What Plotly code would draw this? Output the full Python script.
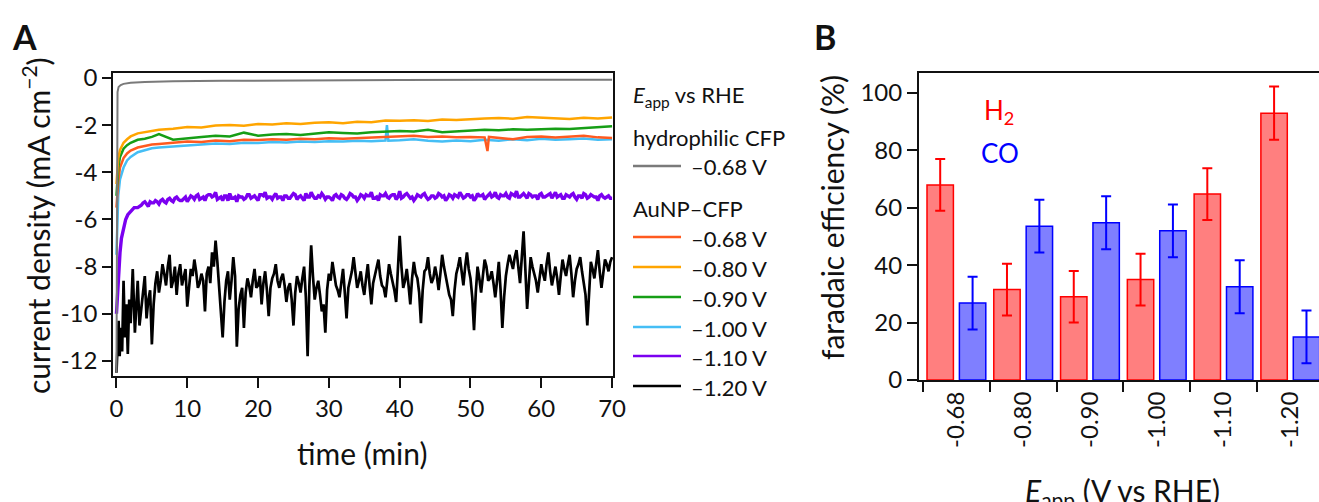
import numpy as np
import plotly.graph_objects as go

W, H = 1319, 502
FONT = "Lato, 'Open Sans', sans-serif"

# ---------------- Panel A data (time in min, current density in mA cm^-2) ----------------
t_gray = [0, 0.05, 0.15, 0.3, 0.6, 1, 2, 4, 8, 15, 25, 40, 55, 70]
j_gray = [-12.5, -3.0, -0.6, -0.38, -0.3, -0.25, -0.2, -0.17, -0.14, -0.12, -0.1, -0.09, -0.08, -0.08]

t_grid = [0, 0.1, 0.25, 0.5, 1, 1.5, 2, 3, 4, 5, 6,
          8, 10, 12, 14, 16, 18, 20, 22, 24, 26, 28, 30, 32, 34, 36, 38,
          40, 42, 44, 46, 48, 50, 52, 54, 56, 58, 60, 62, 64, 66, 68, 70]

j_080 = [-4.5, -3.9, -3.4, -3.05, -2.75, -2.6, -2.48, -2.35, -2.3, -2.22, -2.2,
         -2.15, -2.08, -2.1, -2.02, -2.0, -2.03, -1.95, -1.97, -1.92, -1.95, -1.9, -1.88, -1.92, -1.86, -1.88, -1.8,
         -1.82, -1.79, -1.83, -1.76, -1.78, -1.74, -1.72, -1.7, -1.73, -1.66, -1.68, -1.7, -1.74, -1.69, -1.72, -1.68]

j_090 = [-5.0, -4.4, -3.8, -3.35, -3.0, -2.85, -2.75, -2.62, -2.58, -2.5, -2.38,
         -2.62, -2.55, -2.5, -2.45, -2.48, -2.32, -2.45, -2.4, -2.38, -2.42, -2.35, -2.3, -2.33, -2.36, -2.3, -2.28,
         -2.25, -2.27, -2.2, -2.3, -2.26, -2.24, -2.2, -2.22, -2.18, -2.2, -2.17, -2.15, -2.16, -2.12, -2.1, -2.05]

t_068 = [0, 0.1, 0.25, 0.5, 1, 1.5, 2, 3, 4, 5, 6,
         8, 10, 12, 14, 16, 18, 20, 22, 24, 26, 28, 30, 32, 34, 36, 38,
         40, 42, 44, 46, 48, 50, 52, 52.4, 52.6, 54, 56, 58, 60, 62, 64, 66, 68, 70]
j_068 = [-5.5, -4.9, -4.4, -3.8, -3.4, -3.2, -3.08, -2.95, -2.88, -2.82, -2.8,
         -2.75, -2.7, -2.72, -2.65, -2.68, -2.62, -2.63, -2.6, -2.62, -2.58, -2.6, -2.56, -2.58, -2.55, -2.52, -2.5,
         -2.47, -2.45, -2.5, -2.48, -2.52, -2.5, -2.52, -3.1, -2.5, -2.55, -2.6, -2.5, -2.48, -2.53, -2.5, -2.45, -2.52, -2.55]

t_100 = [0, 0.1, 0.25, 0.5, 1, 1.5, 2, 3, 4, 5, 6,
         8, 10, 12, 14, 16, 18, 20, 22, 24, 26, 28, 30, 32, 34, 36, 38, 38.2, 38.4,
         40, 42, 44, 46, 48, 50, 52, 54, 56, 58, 60, 62, 64, 66, 68, 70]
j_100 = [-7.5, -6.2, -5.0, -4.3, -3.8, -3.5, -3.35, -3.15, -3.05, -2.98, -2.95,
         -2.9, -2.85, -2.82, -2.78, -2.8, -2.75, -2.76, -2.72, -2.74, -2.7, -2.72, -2.68, -2.7, -2.66, -2.68, -2.65, -2.0, -2.66,
         -2.64, -2.6, -2.66, -2.7, -2.65, -2.68, -2.62, -2.66, -2.6, -2.64, -2.58, -2.62, -2.6, -2.57, -2.62, -2.6]

t_110_early = [0, 0.15, 0.3, 0.5, 0.7, 1.0, 1.3, 1.6, 2.0, 2.5, 3.0]
j_110_early = [-10.0, -9.2, -8.3, -7.4, -6.8, -6.3, -6.0, -5.8, -5.65, -5.5, -5.5]
j_110_late = [  # t = 3.5, 4.0 ... 70
    -5.4, -5.25, -5.45, -5.3, -5.2, -5.35, -5.15, -5.3, -5.1, -5.25, -5.05, -5.2, -5.1, -5.25,
    -5.0, -5.15, -4.95, -5.1, -5.2, -4.95, -5.05, -4.85, -5.1, -5.2, -5.0, -4.9, -5.1, -5.25,
    -5.05, -5.15, -4.95, -5.1, -5.0, -5.2, -4.95, -4.85, -5.05, -5.15, -4.9, -5.05, -5.2, -5.0,
    -5.1, -4.9, -5.15, -5.0, -5.2, -5.05, -4.85, -5.1, -5.0, -4.9, -5.15, -5.05, -5.2, -4.95,
    -5.1, -5.0, -5.15, -4.9, -5.05, -5.2, -4.95, -5.1, -5.0, -4.85, -5.1, -5.2, -5.0, -4.9,
    -5.1, -4.95, -5.15, -4.8, -5.05, -4.9, -5.1, -5.2, -4.95, -5.05, -4.9, -5.15, -5.0, -5.1,
    -4.9, -5.05, -5.2, -4.95, -5.1, -5.0, -4.85, -5.1, -4.95, -5.05, -5.2, -4.9, -5.0, -5.15,
    -4.95, -5.05, -4.85, -5.1, -5.0, -4.9, -5.1, -4.95, -4.8, -5.05, -4.9, -5.1, -4.95, -5.0,
    -5.15, -4.9, -5.05, -4.95, -5.1, -4.85, -5.0, -5.1, -4.95, -5.05, -4.9, -5.15, -5.0, -4.9,
    -5.1, -4.95, -5.05, -5.2, -4.95, -5.1, -5.0, -5.1]
j_110_mid = [  # t = 3.75, 4.25 ... 69.75
    -5.3, -5.35, -5.25, -5.3, -5.25, -5.2, -5.25, -5.15, -5.2, -5.1, -5.15, -5.2, -5.05,
    -5.1, -5.05, -5.0, -5.15, -5.05, -5.0, -4.95, -5.0, -5.15, -5.05, -5.0, -5.2, -5.1,
    -5.05, -5.0, -5.05, -5.1, -4.95, -5.05, -5.1, -4.95, -5.0, -5.1, -5.05, -5.0, -5.1,
    -5.05, -5.0, -5.1, -5.0, -4.95, -5.05, -5.1, -4.9, -5.05, -5.0, -5.1, -5.05, -5.0,
    -5.05, -5.1, -5.0, -5.05, -4.95, -5.1, -5.05, -4.95, -5.05, -5.1, -5.0, -4.95, -5.0,
    -5.1, -5.05, -4.95, -5.0, -5.05, -5.0, -4.95, -5.05, -5.1, -4.95, -5.0, -5.05, -5.1,
    -5.0, -4.95, -5.05, -5.1, -5.0, -5.05, -4.95, -5.0, -5.1, -5.0, -4.95, -5.05, -5.0,
    -5.05, -4.95, -5.0, -5.1, -5.0, -4.95, -5.05, -4.9, -5.0, -5.05, -4.95, -5.0, -5.05,
    -4.9, -5.0, -5.05, -4.95, -5.0, -4.9, -5.05, -5.0, -4.95, -5.05, -5.0, -4.9, -5.0,
    -5.05, -4.95, -5.1, -5.0, -4.95, -5.05, -5.0, -5.1, -4.95, -5.05, -5.0, -5.05,
    -5.0, -5.05, -5.05, -5.1]

t_120_early = [0, 0.15, 0.3, 0.45, 0.6, 0.8, 1.0, 1.2, 1.4, 1.6, 1.8, 2.0, 2.3, 2.6, 3.0, 3.25]
j_120_early = [-12.5, -11.2, -10.3, -11.8, -10.6, -11.6, -8.6, -11.0, -9.6, -11.7, -9.4, -10.4, -8.1, -10.8, -8.6, -10.5]
j_120_late = [  # t = 3.5, 4.0 ... 70
    -9.8, -8.4, -9.4, -11.3, -8.7, -9.1, -7.9, -8.8, -7.5, -8.6, -9.2, -7.9, -8.5, -9.7,
    -8.1, -7.7, -8.9, -8.3, -9.9, -8.0, -7.4, -6.9, -9.0, -11.0, -8.6, -9.4, -7.6, -11.4,
    -9.2, -10.6, -8.5, -9.3, -8.1, -8.8, -9.6, -8.2, -10.1, -8.5, -7.9, -8.9, -8.3, -9.5,
    -8.7, -10.5, -8.4, -9.1, -8.0, -11.8, -7.1, -9.4, -8.6, -9.9, -10.8, -8.3, -7.8, -8.8,
    -9.3, -8.1, -10.2, -8.5, -7.6, -8.9, -8.2, -9.2, -7.9, -9.6, -8.4, -7.7, -8.8, -9.3,
    -7.9, -8.6, -9.5, -6.7, -8.9, -8.1, -9.6, -7.8, -8.5, -10.4, -8.2, -7.6, -8.7, -8.0,
    -9.0, -7.5, -8.4, -9.2, -10.1, -8.3, -7.6, -8.8, -7.4, -8.5, -10.7, -8.0, -9.1, -7.7,
    -8.6, -8.2, -9.3, -7.8, -10.6, -8.4, -7.5, -8.1, -7.3, -8.7, -6.5, -9.8, -7.6, -8.3,
    -9.1, -7.9, -8.6, -7.4, -8.8, -8.0, -9.2, -7.7, -8.4, -7.5, -9.3, -8.1, -7.6, -8.7,
    -10.5, -7.8, -8.5, -7.3, -8.9, -7.7, -8.2, -7.6]
j_120_mid = [  # t = 3.75, 4.25 ... 69.75
    -8.9, -10.2, -9.0, -9.6, -8.2, -8.6, -8.3, -8.0, -8.9, -8.0, -8.3, -8.8, -8.1,
    -8.9, -8.4, -8.2, -8.7, -8.6, -8.3, -8.7, -8.0, -7.8, -9.7, -9.5, -8.2, -8.6,
    -8.4, -9.8, -8.9, -9.1, -8.8, -8.6, -8.9, -8.4, -8.7, -9.0, -8.9, -8.3, -8.6,
    -8.5, -8.8, -8.9, -9.4, -9.1, -8.7, -8.5, -9.3, -8.8, -8.4, -8.9, -9.2, -9.6,
    -9.0, -8.6, -8.3, -9.0, -8.7, -9.1, -8.9, -8.2, -8.3, -8.6, -8.8, -8.5, -8.8,
    -8.7, -8.1, -8.4, -8.9, -8.6, -8.3, -9.0, -8.2, -8.0, -8.6, -8.8, -8.5, -8.3,
    -9.1, -9.0, -8.1, -8.3, -8.5, -8.4, -8.3, -8.0, -8.8, -9.4, -9.0, -8.0, -8.2,
    -8.0, -8.1, -9.3, -9.1, -8.5, -8.4, -8.0, -8.5, -8.7, -8.6, -9.0, -9.3, -7.9,
    -7.8, -7.6, -8.0, -7.6, -8.1, -8.7, -8.0, -8.6, -8.4, -8.3, -7.9, -8.2, -8.4,
    -8.5, -8.4, -8.1, -7.9, -8.3, -8.6, -7.9, -8.2, -9.2, -9.0, -8.1, -7.9, -8.2,
    -8.3, -7.9, -7.8]

# ---------------- Panel B data ----------------
potentials = ["-0.68", "-0.80", "-0.90", "-1.00", "-1.10", "-1.20"]
fe_h2 = [68, 31.5, 29, 35, 64.8, 93]
fe_h2_err = [9, 9, 9, 9, 9, 9.3]
fe_co = [26.8, 53.6, 54.8, 52, 32.5, 15]
fe_co_err = [9.2, 9.2, 9.2, 9.2, 9.2, 9.2]

# legend entries for panel A
legend_labels = ["–0.68 V", "–0.68 V", "–0.80 V", "–0.90 V", "–1.00 V", "–1.10 V", "–1.20 V"]
colors_A = ["#7a7a7a", "#FF5A1F", "#FFA500", "#169E16", "#45BEF5", "#7B00F0", "#000000"]

xA_ticks = [0, 10, 20, 30, 40, 50, 60, 70]
yA_ticks = [0, -2, -4, -6, -8, -10, -12]
yB_ticks = [0, 20, 40, 60, 80, 100]


def px(x):
    return x / W


def py(y):
    return 1 - y / H


def interleave(late, mid):
    out = []
    for i, v in enumerate(late):
        out.append(v)
        if i < len(mid) and i < len(late) - 1:
            out.append(mid[i])
    return out


j_110_tail = interleave(j_110_late, j_110_mid)
t_110 = t_110_early + [3.5 + 0.25 * i for i in range(len(j_110_tail))]
j_110 = j_110_early + j_110_tail
j_120_tail = interleave(j_120_late, j_120_mid)
t_120 = t_120_early + [3.5 + 0.25 * i for i in range(len(j_120_tail))]
j_120 = j_120_early + j_120_tail

series = [
    (t_gray, j_gray, 2.0),
    (t_068, j_068, 2.5),
    (t_grid, j_080, 2.5),
    (t_grid, j_090, 2.5),
    (t_100, j_100, 2.5),
    (t_110, j_110, 3.4),
    (t_120, j_120, 2.7),
]
names = ["hydrophilic CFP –0.68 V"] + ["AuNP–CFP " + s for s in legend_labels[1:]]
draw_order = [6, 5, 4, 1, 3, 2, 0]

fig = go.Figure()
for k in draw_order:
    tt, jj, lw = series[k]
    fig.add_trace(go.Scatter(x=tt, y=jj, mode="lines", name=names[k],
                             line=dict(color=colors_A[k], width=lw),
                             xaxis="x", yaxis="y", showlegend=False))

fig.add_trace(go.Bar(x=potentials, y=fe_h2, name="H2",
                     marker=dict(color="rgba(255,0,0,0.5)", line=dict(color="#FF0000", width=1.5)),
                     error_y=dict(type="data", array=fe_h2_err, color="#FF0000", thickness=2, width=5),
                     xaxis="x2", yaxis="y2", showlegend=False))
fig.add_trace(go.Bar(x=potentials, y=fe_co, name="CO",
                     marker=dict(color="rgba(0,0,255,0.5)", line=dict(color="#0000FF", width=1.5)),
                     error_y=dict(type="data", array=fe_co_err, color="#0000FF", thickness=2, width=5),
                     xaxis="x2", yaxis="y2", showlegend=False))

axis_common = dict(showgrid=False, zeroline=False, showline=True, linecolor="#111111",
                   ticks="outside", tickcolor="#111111", automargin=False,
                   tickfont=dict(family=FONT, size=24, color="#111111"))

fig.update_layout(
    width=W, height=H,
    margin=dict(l=0, r=0, t=0, b=0),
    paper_bgcolor="white", plot_bgcolor="white",
    font=dict(family=FONT, color="#111111"),
    barmode="group", bargap=0.03, bargroupgap=0.185,
    xaxis=dict(domain=[px(113), px(613)], range=[-0.49, 70.13], tickvals=xA_ticks,
               ticktext=[str(v) for v in xA_ticks], mirror=True, linewidth=1.6,
               ticklen=10, tickwidth=1.6, anchor="y", **axis_common),
    yaxis=dict(domain=[py(376), py(73)], range=[-12.64, 0.21], tickvals=yA_ticks,
               ticktext=[str(v) for v in yA_ticks], mirror=True, linewidth=1.6,
               ticklen=9, tickwidth=1.6, anchor="x", **axis_common),
    xaxis2=dict(domain=[px(919), 1.0], type="category", range=[-0.56, 5.43],
                tickson="boundaries", tickangle=-90, mirror=True, linewidth=2,
                ticklen=10, tickwidth=2, anchor="y2", **axis_common),
    yaxis2=dict(domain=[py(380), py(73)], range=[0, 107], tickvals=yB_ticks,
                ticktext=[str(v) for v in yB_ticks], mirror=False, linewidth=2,
                ticklen=10, tickwidth=2, anchor="x2", **axis_common),
)

ann = []
# panel labels
ann.append(dict(text="<b>A</b>", x=px(24), y=py(36), font=dict(size=34, family=FONT)))
ann.append(dict(text="<b>B</b>", x=px(825), y=py(36), font=dict(size=34, family=FONT)))
# axis titles
ann.append(dict(text="current density (mA cm<sup>−2</sup>)", x=px(36), y=py(226), textangle=-90,
                font=dict(size=30, family=FONT)))
ann.append(dict(text="time (min)", x=px(363), y=py(453), font=dict(size=30, family=FONT)))
ann.append(dict(text="faradaic efficiency (%)", x=px(832), y=py(218), textangle=-90,
                font=dict(size=30, family=FONT)))
ann.append(dict(text="<i>E</i><sub>app</sub> (V vs RHE)", x=px(1122), y=py(492),
                font=dict(size=30, family=FONT)))
# H2 / CO labels
ann.append(dict(text="H<sub>2</sub>", x=px(982), y=py(111), xanchor="left",
                font=dict(size=26, family=FONT, color="#FF0000")))
ann.append(dict(text="CO", x=px(979), y=py(153), xanchor="left",
                font=dict(size=26, family=FONT, color="#0000FF")))
# legend text
ann.append(dict(text="<i>E</i><sub>app</sub> vs RHE", x=px(631), y=py(96), xanchor="left",
                font=dict(size=22, family=FONT)))
ann.append(dict(text="hydrophilic CFP", x=px(631), y=py(137), xanchor="left",
                font=dict(size=22, family=FONT)))
ann.append(dict(text="AuNP–CFP", x=px(631), y=py(208), xanchor="left",
                font=dict(size=22, family=FONT)))
row_y = [167, 238, 268, 298, 328, 357, 387]
shapes = []
for lab, col, yy in zip(legend_labels, colors_A, row_y):
    ann.append(dict(text=lab, x=px(689), y=py(yy), xanchor="left", font=dict(size=22, family=FONT)))
    shapes.append(dict(type="line", xref="paper", yref="paper", x0=px(633), x1=px(681),
                       y0=py(yy - 1), y1=py(yy - 1), line=dict(color=col, width=2.5)))

for a in ann:
    a.setdefault("xref", "paper")
    a.setdefault("yref", "paper")
    a.setdefault("showarrow", False)
    a.setdefault("xanchor", "center")
    a.setdefault("yanchor", "middle")

fig.update_layout(annotations=ann, shapes=shapes)
fig.write_html("out.html", config={"displayModeBar": False},
               post_script="document.body.style.margin='0px';")
